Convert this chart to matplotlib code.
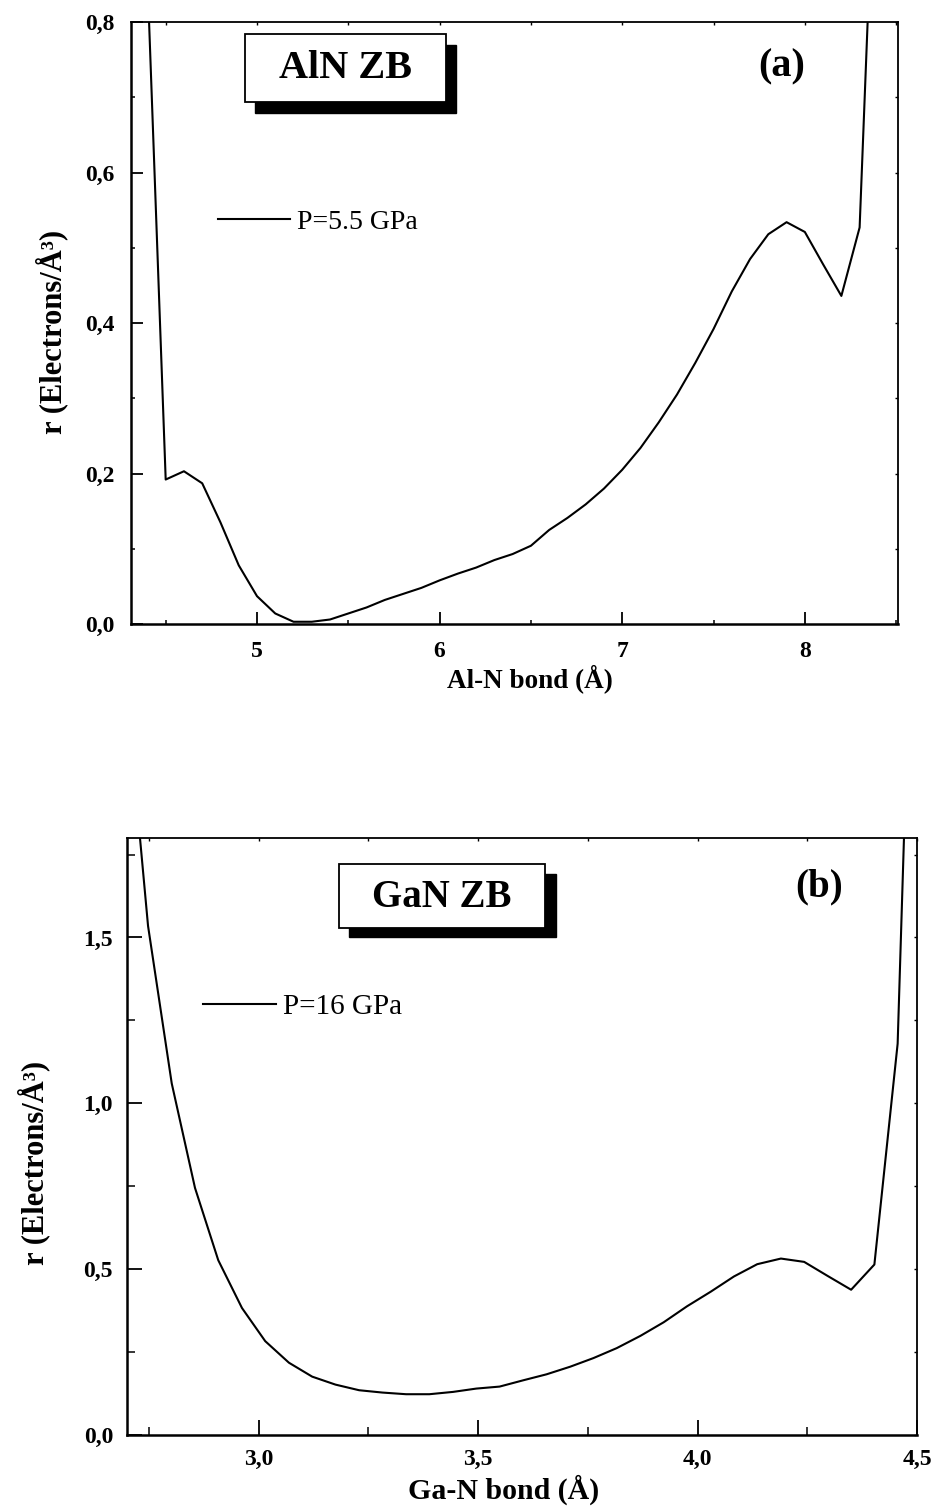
import numpy as np
import matplotlib.pyplot as plt
from matplotlib.patches import Rectangle
from matplotlib.ticker import FuncFormatter, MultipleLocator

plt.rcParams['font.family'] = ['Liberation Serif', 'DejaVu Serif']

# AlN zinc-blende, P = 5.5 GPa
aln_bond = [4.4, 4.5, 4.6, 4.7, 4.8, 4.9, 5.0, 5.1, 5.2, 5.3, 5.4, 5.5, 5.6, 5.7,
            5.8, 5.9, 6.0, 6.1, 6.2, 6.3, 6.4, 6.5, 6.6, 6.7, 6.8, 6.9, 7.0, 7.1,
            7.2, 7.3, 7.4, 7.5, 7.6, 7.7, 7.8, 7.9, 8.0, 8.1, 8.2, 8.3, 8.4]
aln_rho = [0.86, 0.192, 0.203, 0.187, 0.135, 0.078, 0.037, 0.014, 0.003, 0.003,
           0.006, 0.014, 0.022, 0.032, 0.040, 0.048, 0.058, 0.067, 0.075, 0.085,
           0.093, 0.104, 0.125, 0.141, 0.159, 0.180, 0.205, 0.234, 0.268, 0.305,
           0.347, 0.392, 0.442, 0.485, 0.518, 0.534, 0.521, 0.478, 0.436, 0.527,
           1.15]

# GaN zinc-blende, P = 16 GPa
gan_bond = [2.695, 2.748, 2.802, 2.855, 2.908, 2.962, 3.015, 3.069, 3.122, 3.175,
            3.229, 3.282, 3.336, 3.389, 3.443, 3.496, 3.549, 3.603, 3.656, 3.710,
            3.763, 3.816, 3.870, 3.923, 3.976, 4.030, 4.083, 4.136, 4.190, 4.243,
            4.296, 4.350, 4.403, 4.456, 4.510]
gan_rho = [2.30, 1.535, 1.060, 0.745, 0.527, 0.383, 0.283, 0.218, 0.176, 0.152,
           0.135, 0.128, 0.123, 0.123, 0.130, 0.140, 0.146, 0.165, 0.183, 0.206,
           0.232, 0.262, 0.299, 0.340, 0.388, 0.432, 0.478, 0.515, 0.532, 0.522,
           0.480, 0.438, 0.514, 1.180, 3.50]

YLABEL = "r (Electrons/Å³)"


def comma_fmt(decimals):
    return FuncFormatter(lambda v, pos: f"{v:.{decimals}f}".replace('.', ','))


def style_axes(ax, xlim, ylim, xmajor, xminor, ymajor, yminor,
               xdec, ydec, ticksize, pad, major_len, minor_len):
    ax.set_xlim(*xlim)
    ax.set_ylim(*ylim)
    ax.xaxis.set_major_locator(MultipleLocator(xmajor))
    ax.xaxis.set_minor_locator(MultipleLocator(xminor))
    ax.yaxis.set_major_locator(MultipleLocator(ymajor))
    ax.yaxis.set_minor_locator(MultipleLocator(yminor))
    ax.xaxis.set_major_formatter(comma_fmt(xdec))
    ax.yaxis.set_major_formatter(comma_fmt(ydec))
    ax.tick_params(which='major', direction='in', length=major_len, width=1.3,
                   labelsize=ticksize, pad=pad)
    ax.tick_params(which='minor', direction='in', length=minor_len, width=1.1)
    for lab in ax.get_xticklabels() + ax.get_yticklabels():
        lab.set_fontweight('bold')
    for side in ('left', 'bottom'):
        ax.spines[side].set_linewidth(1.8)
    for side in ('top', 'right'):
        ax.spines[side].set_linewidth(1.3)

    # small inward ticks on the opposite frame edges
    top = ax.secondary_xaxis('top')
    top.xaxis.set_major_locator(MultipleLocator(xminor))
    top.tick_params(direction='in', length=2.2, width=1.0, labeltop=False)
    top.spines['top'].set_visible(False)
    right = ax.secondary_yaxis('right')
    right.yaxis.set_major_locator(MultipleLocator(yminor))
    right.tick_params(direction='in', length=2.2, width=1.0, labelright=False)
    right.spines['right'].set_visible(False)


def shadow_box(ax, text, box, shadow, center, fontsize):
    x0, y0, x1, y1 = shadow
    ax.add_patch(Rectangle((x0, y0), x1 - x0, y1 - y0, transform=ax.transAxes,
                           facecolor='black', edgecolor='black', zorder=5))
    x0, y0, x1, y1 = box
    ax.add_patch(Rectangle((x0, y0), x1 - x0, y1 - y0, transform=ax.transAxes,
                           facecolor='white', edgecolor='black', linewidth=1.3,
                           zorder=6))
    ax.text(center[0], center[1], text, transform=ax.transAxes, fontsize=fontsize,
            fontweight='bold', ha='center', va='center', zorder=7)


def main():
    fig = plt.figure(figsize=(9.35, 15.08), dpi=100)

    # ---- (a) AlN ----
    ax1 = fig.add_axes([0.1401, 0.5862, 0.8203, 0.3992])
    ax1.plot(aln_bond, aln_rho, color='black', linewidth=1.5, label='P=5.5 GPa')
    style_axes(ax1, (4.31, 8.51), (0.0, 0.8), 1.0, 0.5, 0.2, 0.1,
               0, 1, 17, 12, 8.6, 3.0)
    ax1.set_xlabel("Al-N bond (Å)", fontsize=19.5, fontweight='bold')
    ax1.xaxis.set_label_coords(0.520, -0.066)
    ax1.xaxis.label.set_va('top')
    ax1.set_ylabel(YLABEL, fontsize=22, fontweight='bold')
    ax1.yaxis.set_label_coords(-0.082, 0.485)
    shadow_box(ax1, "AlN ZB", (0.1486, 0.867, 0.4107, 0.980),
               (0.1617, 0.849, 0.4238, 0.962), (0.2797, 0.922), 29)
    ax1.text(0.8488, 0.925, "(a)", transform=ax1.transAxes, fontsize=29,
             fontweight='bold', ha='center', va='center')
    ax1.legend(loc='center left', bbox_to_anchor=(0.1134, 0.6678), frameon=False,
               fontsize=20, handlelength=2.6, handletextpad=0.25, borderpad=0,
               borderaxespad=0)

    # ---- (b) GaN ----
    ax2 = fig.add_axes([0.1358, 0.0484, 0.8449, 0.3959])
    ax2.plot(gan_bond, gan_rho, color='black', linewidth=1.5, label='P=16 GPa')
    style_axes(ax2, (2.7, 4.5), (0.0, 1.8), 0.5, 0.25, 0.5, 0.25,
               1, 1, 17, 10, 10.5, 5.5)
    ax2.set_xlabel("Ga-N bond (Å)", fontsize=21.5, fontweight='bold')
    ax2.xaxis.set_label_coords(0.477, -0.066)
    ax2.xaxis.label.set_va('top')
    ax2.set_ylabel(YLABEL, fontsize=22, fontweight='bold')
    ax2.yaxis.set_label_coords(-0.097, 0.455)
    shadow_box(ax2, "GaN ZB", (0.2684, 0.8492, 0.5291, 0.9564),
               (0.2810, 0.8342, 0.5430, 0.9397), (0.3987, 0.901), 28)
    ax2.text(0.8759, 0.918, "(b)", transform=ax2.transAxes, fontsize=28,
             fontweight='bold', ha='center', va='center')
    ax2.legend(loc='center left', bbox_to_anchor=(0.0962, 0.7169), frameon=False,
               fontsize=21, handlelength=2.5, handletextpad=0.25, borderpad=0,
               borderaxespad=0)

    fig.savefig("out.png", dpi=100)
    plt.close(fig)


if __name__ == "__main__":
    main()
